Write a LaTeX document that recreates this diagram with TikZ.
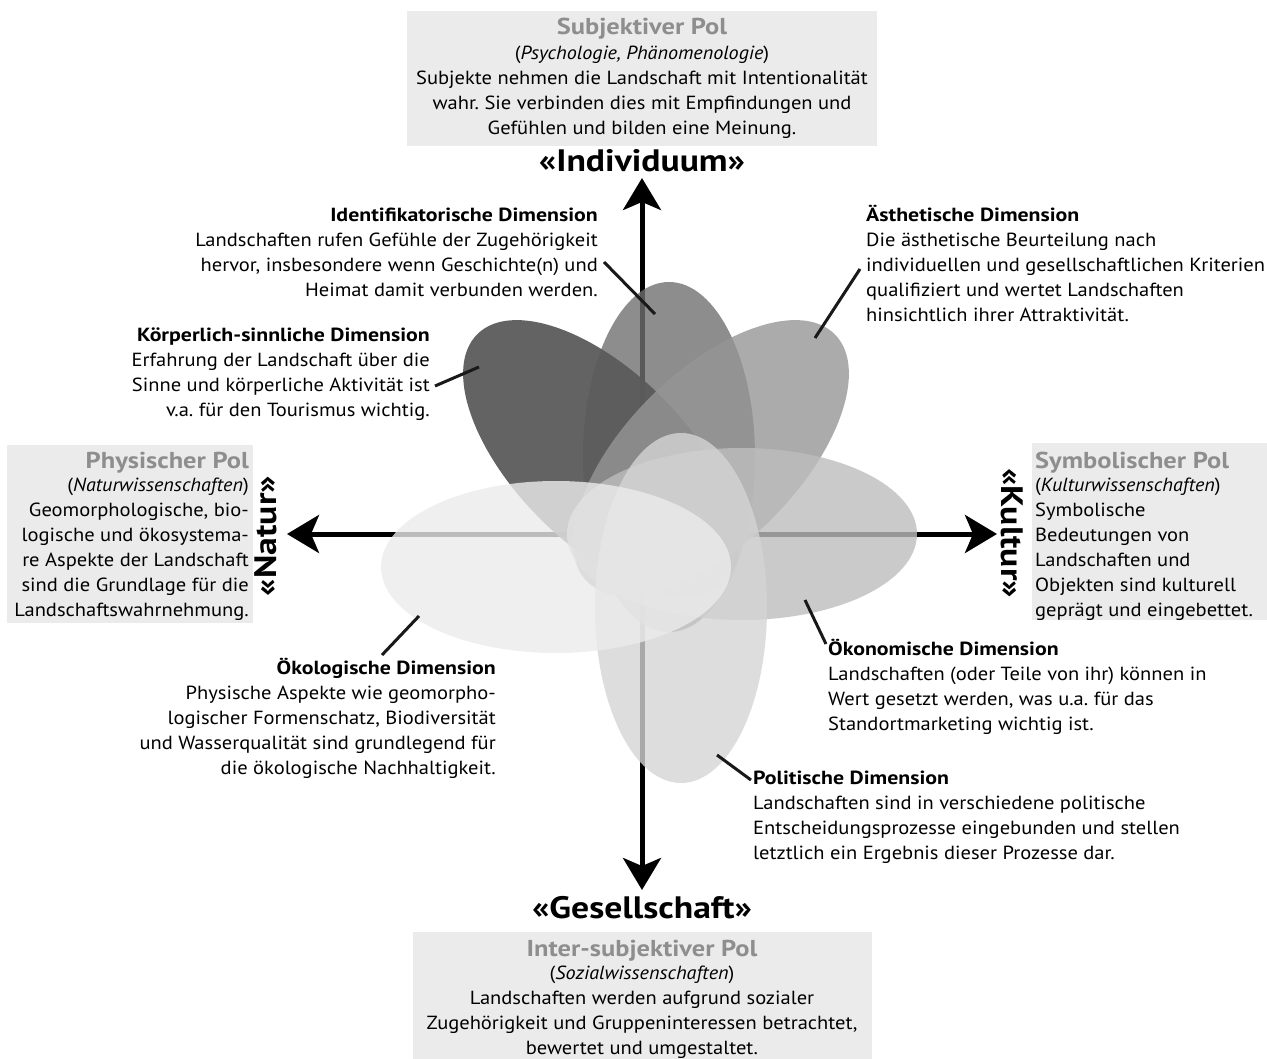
\documentclass[tikz,border=0pt]{standalone}
\usepackage{fontspec}
\setmainfont{PT Sans}[UprightFeatures={FakeStretch=1.08}, BoldFeatures={FakeStretch=1.15}, ItalicFeatures={FakeStretch=1.06}]
\usetikzlibrary{arrows.meta,shapes.geometric}
\definecolor{boxgray}{RGB}{235,235,235}
\definecolor{polgray}{RGB}{142,142,142}
\definecolor{leadercol}{RGB}{25,25,25}
\definecolor{petalA}{RGB}{91,91,91}
\definecolor{petalB}{RGB}{112,112,112}
\definecolor{petalC}{RGB}{150,150,150}
\definecolor{petalD}{RGB}{189,189,189}
\definecolor{petalE}{RGB}{212,212,212}
\definecolor{petalF}{RGB}{235,235,235}
\newcommand{\myBodyFont}{\fontsize{19}{25}\selectfont}
\newcommand{\myHeadFont}{\fontsize{23}{25}\selectfont\bfseries}
\newcommand{\myAxisFont}{\fontsize{31}{33}\selectfont\bfseries}
\newcommand{\myTop}{\rule{0pt}{19pt}}
\frenchspacing
\begin{document}
\begin{tikzpicture}[x=1pt,y=-1pt,
  body/.style={font=\myBodyFont, inner sep=0pt},
  polhead/.style={font=\myHeadFont, text=polgray, inner sep=0pt},
  axislabel/.style={font=\myAxisFont, inner sep=0pt},
  petal/.style={ellipse, draw=none, fill opacity=0.8, minimum width=350pt, minimum height=172pt, inner sep=0pt},
  leaderline/.style={draw=leadercol, line width=3pt},
  axisline/.style={line width=5pt, arrows={Stealth[length=32pt,width=38pt,inset=8pt]-Stealth[length=32pt,width=38pt,inset=8pt]}},
  polbox/.style={fill=boxgray}]
\useasboundingbox (0,0) rectangle (1267,1059);

% pole boxes
\fill[polbox] (407,11) rectangle (877,146);
\fill[polbox] (7,445) rectangle (253,623);
\fill[polbox] (1032,443) rectangle (1267,620);
\fill[polbox] (413,932) rectangle (872,1059);

% axes
\coordinate (N) at (642,178);
\coordinate (S) at (642,890);
\coordinate (W) at (287,534);
\coordinate (E) at (997,534);
\draw[axisline] (S) -- (N);
\draw[axisline] (W) -- (E);

% petals
\node[petal, fill=petalB, rotate=90] (ident) at (669,457) {};
\node[petal, fill=petalA, fill opacity=0.95, rotate=-45] (koerper) at (601,458) {};
\node[petal, fill=petalC, rotate=45] (aesth) at (711,458) {};
\node[petal, fill=petalD] (oekon) at (742,534) {};
\node[petal, fill=petalE, rotate=90] (polit) at (681,608) {};
\node[petal, fill=petalF] (oekol) at (556,567) {};

% leader lines
\coordinate (identA) at (604,262); \coordinate (identB) at (655,314);
\coordinate (aesthA) at (860,269); \coordinate (aesthB) at (815,338);
\coordinate (koerpA) at (435,386); \coordinate (koerpB) at (479,367);
\coordinate (oekolA) at (382,655); \coordinate (oekolB) at (419,616);
\coordinate (oekonA) at (826,644); \coordinate (oekonB) at (805,600);
\coordinate (politA) at (751,780); \coordinate (politB) at (717,755);
\draw[leaderline] (identA) -- (identB);
\draw[leaderline] (aesthA) -- (aesthB);
\draw[leaderline] (koerpA) -- (koerpB);
\draw[leaderline] (oekolA) -- (oekolB);
\draw[leaderline] (oekonA) -- (oekonB);
\draw[leaderline] (politA) -- (politB);

% top pole
\node[polhead, anchor=base] (subjH) at (642,35) {Subjektiver Pol};
\node[body, anchor=north, align=center] (subjT) at (642,40.5) {\myTop(\textit{Psychologie, Phänomenologie})\\Subjekte nehmen die Landschaft mit Intentionalität\\wahr. Sie verbinden dies mit Empfindungen und\\Gefühlen und bilden eine Meinung.};
\node[axislabel, anchor=base] (indiv) at (642,172) {«Individuum»};

% left pole
\node[polhead, anchor=base east] (physH) at (249,468) {Physischer Pol};
\node[body, anchor=north east, align=right] (physT) at (249,472.5) {\myTop(\textit{Naturwissenschaften})\\Geomorphologische, bio-\\logische und ökosystema-\\re Aspekte der Landschaft\\sind die Grundlage für die\\Landschaftswahrnehmung.};
\node[axislabel, rotate=90] (natur) at (266,536) {«Natur»};

% right pole
\node[polhead, anchor=base west] (symbH) at (1035,468) {Symbolischer Pol};
\node[body, anchor=north west, align=left] (symbT) at (1035,472.5) {\myTop(\textit{Kulturwissenschaften})\\Symbolische\\Bedeutungen von\\Landschaften und\\Objekten sind kulturell\\geprägt und eingebettet.};
\node[axislabel, rotate=-90] (kultur) at (1012,533) {«Kultur»};

% bottom pole
\node[axislabel, anchor=base] (gesell) at (642,918) {«Gesellschaft»};
\node[polhead, anchor=base] (interH) at (642,956) {Inter-subjektiver Pol};
\node[body, anchor=north, align=center] (interT) at (642,960.5) {\myTop(\textit{Sozialwissenschaften})\\Landschaften werden aufgrund sozialer\\Zugehörigkeit und Gruppeninteressen betrachtet,\\bewertet und umgestaltet.};

% dimensions
\node[body, anchor=north east, align=right] (identT) at (598,202.5) {\myTop\textbf{Identifikatorische Dimension}\\Landschaften rufen Gefühle der Zugehörigkeit\\hervor, insbesondere wenn Geschichte(n) und\\Heimat damit verbunden werden.};
\node[body, anchor=north west, align=left] (aesthT) at (866,202.5) {\myTop\textbf{Ästhetische Dimension}\\Die ästhetische Beurteilung nach\\individuellen und gesellschaftlichen Kriterien\\qualifiziert und wertet Landschaften\\hinsichtlich ihrer Attraktivität.};
\node[body, anchor=north east, align=right] (koerpT) at (430,322.5) {\myTop\textbf{Körperlich-sinnliche Dimension}\\Erfahrung der Landschaft über die\hspace*{\stretch{100}}\\Sinne und körperliche Aktivität ist\\v.a. für den Tourismus wichtig.};
\node[body, anchor=north east, align=right] (oekolT) at (496,655.5) {\myTop\textbf{Ökologische Dimension}\\Physische Aspekte wie geomorpho-\\logischer Formenschatz, Biodiversität\\und Wasserqualität sind grundlegend für\\die ökologische Nachhaltigkeit.};
\node[body, anchor=north west, align=left] (oekonT) at (828,636.5) {\myTop\textbf{Ökonomische Dimension}\\Landschaften (oder Teile von ihr) können in\\Wert gesetzt werden, was u.a. für das\\Standortmarketing wichtig ist.};
\node[body, anchor=north west, align=left] (politT) at (753,765.5) {\myTop\textbf{Politische Dimension}\\Landschaften sind in verschiedene politische\\Entscheidungsprozesse eingebunden und stellen\\letztlich ein Ergebnis dieser Prozesse dar.};
\end{tikzpicture}
\end{document}
